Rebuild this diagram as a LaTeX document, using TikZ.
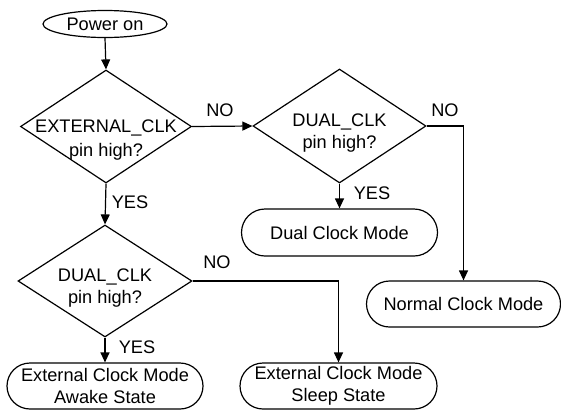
\documentclass[tikz,border=0pt]{standalone}
\usepackage{fontspec}
\setmainfont{Liberation Sans}
\usetikzlibrary{shapes.geometric,shapes.misc,arrows.meta}
\begin{document}
\begin{tikzpicture}[x=1pt,y=-1pt,
  every node/.style={font=\fontsize{18.2}{22}\selectfont, inner sep=0pt},
  line/.style={line width=1.2pt, black},
  arr/.style={line, -{Triangle[length=10pt,width=9pt]}},
  decision/.style={draw, line width=1.2pt, diamond, inner sep=0pt},
  terminal/.style={draw, line width=1.2pt, rounded rectangle, minimum height=46pt, align=center},
  startnode/.style={draw, line width=1.2pt, ellipse, minimum width=124pt, minimum height=27pt},
  lbl/.style={font=\fontsize{18.2}{22}\selectfont}
]
\useasboundingbox (0,0) rectangle (561,410);

\node[startnode] (power) at (105,24) {Power on};

\node[decision, minimum width=171pt, minimum height=113pt] (d1) at (106,126.5) {};
\node[align=center, font=\fontsize{18.2}{24.5}\selectfont] (t1) at (106,140) {EXTERNAL\_CLK\\pin high?};

\node[decision, minimum width=173pt, minimum height=114pt] (d2) at (339.5,126) {};
\node[align=center] (t2) at (339.5,133) {DUAL\_CLK\\pin high?};

\node[decision, minimum width=174pt, minimum height=112pt] (d3) at (105,281) {};
\node[align=center] (t3) at (105,288) {DUAL\_CLK\\pin high?};

\node[terminal, minimum width=196pt, minimum height=47pt] (dual) at (339.5,232.5) {Dual Clock Mode};
\node[terminal, minimum width=194pt] (norm) at (463.5,304) {Normal Clock Mode};
\node[terminal, minimum width=196pt] (awake) at (105,386) {External Clock Mode\\Awake State};
\node[terminal, minimum width=197pt] (sleep) at (338.5,386) {External Clock Mode\\Sleep State};

\draw[arr] (power.south) -- (d1.north);
\draw[arr] (d1.east) -- (d2.west);
\draw[arr] (d2.east) -| (norm.north);
\draw[arr] (d2.south) -- (dual.north);
\draw[arr] (d1.south) -- (d3.north);
\draw[arr] (d3.east) -| (sleep.north);
\draw[arr] (d3.south) -- (d3.south |- awake.north);

\node[lbl] (no1) at (220,110) {NO};
\node[lbl] (no2) at (445,110) {NO};
\node[lbl] (no3) at (217,262) {NO};
\node[lbl] (yes1) at (130,202) {YES};
\node[lbl] (yes2) at (372,193) {YES};
\node[lbl] (yes3) at (137,347) {YES};
\end{tikzpicture}
\end{document}
